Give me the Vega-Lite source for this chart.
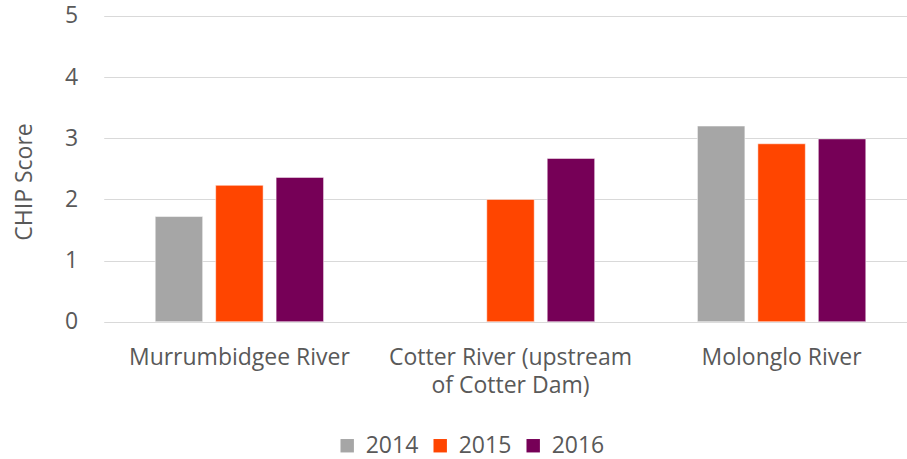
{
  "$schema": "https://vega.github.io/schema/vega-lite/v6.json",
  "autosize": {"type": "none"},
  "padding": {"left": 103.7, "top": 16, "right": 0, "bottom": 137},
  "width": 803.3,
  "height": 305.7,
  "background": "white",
  "data": {
    "values": [
      {"river": "Murrumbidgee River", "year": "2014", "score": 1.72},
      {"river": "Murrumbidgee River", "year": "2015", "score": 2.23},
      {"river": "Murrumbidgee River", "year": "2016", "score": 2.36},
      {"river": "Cotter River (upstream of Cotter Dam)", "year": "2015", "score": 2.0},
      {"river": "Cotter River (upstream of Cotter Dam)", "year": "2016", "score": 2.67},
      {"river": "Molonglo River", "year": "2014", "score": 3.2},
      {"river": "Molonglo River", "year": "2015", "score": 2.91},
      {"river": "Molonglo River", "year": "2016", "score": 2.99}
    ]
  },
  "config": {
    "view": {"stroke": null},
    "font": "Open Sans"
  },
  "mark": {"type": "bar", "stroke": "#ffffff", "strokeOpacity": 0.5, "strokeWidth": 1},
  "encoding": {
    "x": {
      "field": "river",
      "type": "nominal",
      "sort": ["Murrumbidgee River", "Cotter River (upstream of Cotter Dam)", "Molonglo River"],
      "scale": {"range": [0, 813.6], "paddingInner": 0.379, "paddingOuter": 0.19},
      "axis": {
        "title": null,
        "labelAngle": 0,
        "domain": false,
        "ticks": false,
        "labelFont": "Open Sans",
        "labelFontSize": 23,
        "labelColor": "#595959",
        "labelPadding": 25,
        "labelBaseline": "top",
        "labelLineHeight": 28,
        "labelLimit": 400,
        "labelExpr": "datum.value == 'Cotter River (upstream of Cotter Dam)' ? ['Cotter River (upstream', 'of Cotter Dam)'] : datum.value"
      }
    },
    "xOffset": {
      "field": "year",
      "type": "nominal",
      "sort": ["2014", "2015", "2016"],
      "scale": {"domain": ["2014", "2015", "2016"], "paddingInner": 0.215, "paddingOuter": 0}
    },
    "y": {
      "field": "score",
      "type": "quantitative",
      "scale": {"domain": [0, 5], "nice": false},
      "axis": {
        "values": [0, 1, 2, 3, 4, 5],
        "domain": false,
        "ticks": false,
        "grid": true,
        "gridColor": "#D9D9D9",
        "gridWidth": 1,
        "labelFont": "Open Sans",
        "labelFontSize": 23,
        "labelColor": "#595959",
        "labelPadding": 26,
        "title": "CHIP Score",
        "titleFont": "Open Sans",
        "titleFontSize": 23,
        "titleFontWeight": "normal",
        "titleColor": "#595959",
        "titleAngle": -90,
        "titleAlign": "center",
        "titleBaseline": "alphabetic",
        "titleX": -72,
        "titleY": 165.5
      }
    },
    "color": {
      "field": "year",
      "type": "nominal",
      "scale": {"domain": ["2014", "2015", "2016"], "range": ["#A6A6A6", "#FF4500", "#760057"]},
      "legend": {
        "title": null,
        "orient": "none",
        "direction": "horizontal",
        "legendX": 232,
        "legendY": 418,
        "symbolType": "square",
        "symbolSize": 180,
        "symbolStrokeWidth": 0,
        "labelFont": "Open Sans",
        "labelFontSize": 23,
        "labelColor": "#595959",
        "labelOffset": 7,
        "columnPadding": 10
      }
    }
  }
}
